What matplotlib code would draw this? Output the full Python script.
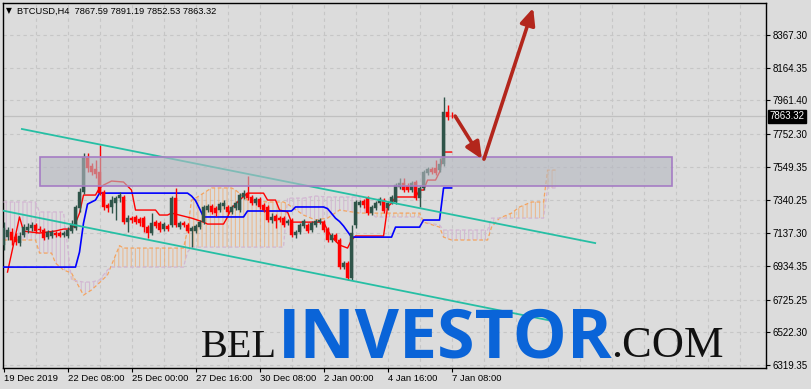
#%% IMPORTS
import numpy as np
import matplotlib
matplotlib.use('Agg')
import matplotlib.pyplot as plt
import matplotlib.transforms as mtransforms
from matplotlib.patches import Rectangle

#%% DATA (BTCUSD H4, bar index 0 = 19 Dec 2019 16:00)
opens = [7064, 7113, 7144, 7113, 7076, 7126, 7157, 7169, 7188, 7163,
         7157, 7113, 7120, 7138, 7138, 7126, 7120, 7151, 7169, 7293,
         7393, 7604, 7554, 7535, 7517, 7393, 7312, 7300, 7324, 7355,
         7362, 7206, 7231, 7238, 7225, 7231, 7175, 7138, 7206, 7200,
         7163, 7182, 7188, 7355, 7175, 7200, 7188, 7151, 7151, 7175,
         7206, 7281, 7306, 7293, 7281, 7306, 7300, 7269, 7293, 7281,
         7362, 7386, 7362, 7324, 7349, 7312, 7300, 7219, 7244, 7231,
         7231, 7200, 7219, 7126, 7144, 7182, 7188, 7157, 7188, 7206,
         7206, 7163, 7095, 7126, 7095, 6927, 6952, 6859, 7188, 7312,
         7337, 7355, 7262, 7293, 7324, 7343, 7293, 7331, 7331, 7424,
         7449, 7430, 7405, 7455, 7355, 7418, 7511, 7535, 7542, 7529,
         7566, 7889, 7867.59]
highs = [7206, 7175, 7169, 7138, 7144, 7194, 7200, 7206, 7200, 7182,
         7169, 7157, 7157, 7151, 7151, 7151, 7175, 7219, 7312, 7418,
         7635, 7635, 7573, 7591, 7684, 7405, 7324, 7368, 7368, 7393,
         7374, 7250, 7244, 7250, 7238, 7244, 7188, 7262, 7219, 7213,
         7206, 7194, 7368, 7418, 7213, 7213, 7200, 7182, 7194, 7219,
         7312, 7318, 7318, 7306, 7331, 7343, 7312, 7312, 7337, 7386,
         7405, 7492, 7374, 7362, 7362, 7324, 7312, 7262, 7256, 7244,
         7244, 7225, 7231, 7157, 7200, 7225, 7200, 7213, 7225, 7231,
         7219, 7175, 7138, 7138, 7107, 6964, 6964, 7188, 7343, 7343,
         7349, 7368, 7312, 7337, 7362, 7355, 7337, 7374, 7449, 7480,
         7480, 7449, 7461, 7467, 7430, 7529, 7548, 7548, 7591, 7604,
         7982, 7933, 7891.19]
lows = [7033, 7095, 7064, 7064, 7058, 7113, 7138, 7151, 7138, 7144,
        7095, 7101, 7107, 7113, 7113, 7113, 7107, 7138, 7157, 7269,
        7380, 7517, 7498, 7480, 7374, 7281, 7269, 7262, 7219, 7331,
        7194, 7144, 7200, 7194, 7182, 7144, 7107, 7126, 7169, 7144,
        7151, 7151, 7175, 7175, 7163, 7175, 7138, 7051, 7138, 7163,
        7194, 7269, 7256, 7244, 7269, 7287, 7256, 7256, 7281, 7269,
        7349, 7343, 7312, 7312, 7287, 7269, 7206, 7200, 7169, 7206,
        7175, 7188, 7113, 7107, 7132, 7169, 7138, 7144, 7175, 7194,
        7144, 7082, 7082, 7082, 6915, 6915, 6847, 6847, 7169, 7300,
        7293, 7250, 7250, 7281, 7312, 7262, 7281, 7318, 7318, 7411,
        7393, 7393, 7393, 7343, 7300, 7405, 7498, 7504, 7498, 7517,
        7554, 7840, 7852.53]
closes = [7169, 7157, 7095, 7082, 7120, 7175, 7175, 7188, 7151, 7157,
          7107, 7144, 7144, 7126, 7120, 7138, 7157, 7194, 7300, 7393,
          7610, 7542, 7517, 7504, 7386, 7300, 7293, 7343, 7355, 7374,
          7206, 7231, 7219, 7206, 7200, 7175, 7138, 7200, 7182, 7157,
          7194, 7163, 7355, 7188, 7200, 7188, 7151, 7169, 7182, 7206,
          7300, 7306, 7269, 7262, 7318, 7324, 7269, 7300, 7324, 7374,
          7386, 7355, 7324, 7349, 7300, 7281, 7219, 7238, 7213, 7219,
          7188, 7213, 7126, 7144, 7188, 7213, 7151, 7200, 7213, 7219,
          7157, 7095, 7126, 7095, 6927, 6952, 6859, 7138, 7331, 7331,
          7312, 7262, 7300, 7324, 7349, 7275, 7324, 7362, 7436, 7449,
          7405, 7405, 7449, 7355, 7418, 7517, 7535, 7517, 7511, 7566,
          7889, 7858, 7863.32]

# Ichimoku lines (bar, price)
tenkan_bar = [1, 4, 5, 9, 13, 15, 17, 18, 19, 20, 23, 24, 25, 27, 30, 32, 33, 38, 39, 41,
              42, 47, 50, 51, 55, 56, 57, 59, 61, 65, 66, 68, 69, 71, 72, 80, 81, 82, 84, 86,
              87, 88, 95, 96, 97, 98, 103, 104, 105, 106, 108, 109, 110, 112]
tenkan_val = [6896, 7238, 7150, 7138, 7151, 7163, 7163, 7200, 7262, 7374, 7374, 7418, 7436, 7461, 7455, 7405, 7281, 7281, 7250, 7250,
              7262, 7231, 7206, 7194, 7194, 7238, 7293, 7343, 7386, 7386, 7343, 7343, 7281, 7269, 7206, 7206, 7157, 7113, 7064, 7045,
              7095, 7120, 7120, 7300, 7324, 7362, 7362, 7405, 7405, 7467, 7467, 7517, 7641, 7641]
kijun_bar = [0, 18, 19, 20, 21, 23, 24, 46, 47, 48, 49, 50, 60, 61, 72, 73, 80, 81, 82, 83,
             84, 85, 87, 97, 98, 104, 105, 109, 110, 112]
kijun_val = [6927, 6927, 7020, 7200, 7318, 7343, 7386, 7386, 7368, 7340, 7290, 7238, 7238, 7275, 7275, 7300, 7300, 7290, 7260, 7230,
             7210, 7182, 7113, 7113, 7175, 7175, 7219, 7219, 7418, 7418]
cloud_bar = [0, 8, 9, 12, 13, 15, 17, 20, 22, 24, 26, 27, 28, 29, 30, 45, 46, 47, 48, 50,
             52, 57, 58, 61, 66, 70, 71, 75, 78, 81, 84, 89, 90, 93, 104, 105, 109, 110, 112, 121,
             122, 124, 127, 129, 132, 135, 136, 138]
span_a = [7095, 7095, 7014, 7014, 6952, 6909, 6890, 6753, 6785, 6830, 6878, 6940, 7000, 7060, 7045, 7045, 7157, 7343, 7355, 7386,
          7418, 7418, 7405, 7343, 7331, 7331, 7318, 7250, 7219, 7231, 7281, 7262, 7262, 7262, 7262, 7206, 7175, 7113, 7095, 7095,
          7175, 7231, 7262, 7300, 7331, 7331, 7529, 7529]
span_b = [7331, 7331, 7269, 7269, 7269, 7269, 6847, 6834, 6834, 6847, 6909, 6927, 6927, 6927, 6927, 6927, 7020, 7051, 7051, 7051,
          7051, 7051, 7051, 7051, 7051, 7051, 7355, 7355, 7368, 7362, 7362, 7362, 7312, 7238, 7238, 7206, 7188, 7157, 7157, 7157,
          7231, 7231, 7231, 7231, 7231, 7231, 7418, 7418]

# drawn objects (bar, price)
channel_upper = [(4.6, 7784), (147.9, 7076)]
channel_lower = [(-0.9, 7281), (136.1, 6598)]
zone_bars = (9.1, 167.1)
zone_prices = (7430, 7612)
arrow_down = [(112.9, 7864), (119.6, 7597)]
arrow_up = [(120.1, 7597), (132.4, 8535)]

price_ticks = [6319.35, 6522.30, 6725.25, 6934.35, 7137.30, 7340.25,
               7549.35, 7752.30, 7961.40, 8164.35, 8367.30]
time_ticks = [0, 16, 32, 48, 64, 80, 96, 112]
time_labels = ['19 Dec 2019', '22 Dec 08:00', '25 Dec 00:00', '27 Dec 16:00',
               '30 Dec 08:00', '2 Jan 00:00', '4 Jan 16:00', '7 Jan 08:00']
header = 'BTCUSD,H4  7867.59 7891.19 7852.53 7863.32'
bid = 7863.32

#%% STYLE
BG = '#dcdcdc'
GRID = '#c6c6c6'
BULL = '#2f5449'
BEAR = '#ff0000'
TEAL = '#26bfa4'
ARROW = '#b3261c'
plt.rcParams['font.family'] = ['Liberation Sans', 'DejaVu Sans']
plt.rcParams['hatch.linewidth'] = 0.8

#%% FIGURE
fig = plt.figure(figsize=(8.11, 3.89), dpi=100, facecolor=BG)
ax = fig.add_axes([3 / 811, 21 / 389, 763 / 811, 365 / 389], facecolor=BG)
ax.set_xlim(-0.125, 190.6)
ax.set_ylim(6300.7, 8565.9)

# grid
for b in range(8, 190, 8):
    ax.axvline(b, color=GRID, lw=0.8, ls=(0, (3, 3)), zorder=0)
for p in price_ticks:
    ax.axhline(p, color=GRID, lw=0.8, ls=(0, (3, 3)), zorder=0)

# watermark
wm_y = 1 - 357 / 389
fig.text(277 / 811, wm_y, 'BEL', family='Liberation Serif', fontsize=29,
         color='#111111', ha='right', va='baseline', zorder=1)
fig.text(278 / 811, wm_y, 'INVESTOR', family='Open Sans', fontweight='bold',
         fontsize=49, color='#0a64d8', ha='left', va='baseline', zorder=1)
fig.text(611 / 811, wm_y, '.COM', family='Liberation Serif', fontsize=32,
         color='#111111', ha='left', va='baseline', zorder=1)

# cloud
cb = np.array(cloud_bar, dtype=float)
sa = np.array(span_a, dtype=float)
sb = np.array(span_b, dtype=float)
ax.fill_between(cb, sa, sb, where=sa >= sb, interpolate=True, facecolor='none',
                edgecolor='#f4a460', hatch='||||', linewidth=0, alpha=0.6, zorder=2)
ax.fill_between(cb, sa, sb, where=sa < sb, interpolate=True, facecolor='none',
                edgecolor='#d2b6d2', hatch='||||', linewidth=0, alpha=0.9, zorder=2)
ax.plot(cb, sa, color='#f4a460', lw=0.9, ls=(0, (3, 2)), zorder=3)
ax.plot(cb, sb, color='#d2b6d2', lw=0.9, ls=(0, (3, 2)), zorder=3)

# tenkan / kijun
ax.plot(tenkan_bar, tenkan_val, color='#ff0000', lw=1.0, zorder=4)
ax.plot(kijun_bar, kijun_val, color='#0000ff', lw=1.2, zorder=4)

# candles
idx = np.arange(len(opens))
o = np.array(opens)
h = np.array(highs)
l = np.array(lows)
c = np.array(closes)
up = c >= o
cols = np.where(up, BULL, BEAR)
ax.vlines(idx, l, h, colors=cols, lw=1.0, zorder=5)
body = np.where(np.abs(c - o) < 4, 4, np.abs(c - o))
ax.bar(idx, body, bottom=np.minimum(o, c), width=0.72, color=cols,
       edgecolor=cols, linewidth=0.3, zorder=6)

# channel
for line in (channel_upper, channel_lower):
    xs, ys = zip(*line)
    ax.plot(xs, ys, color=TEAL, lw=1.3, zorder=7)

# zone rectangle
ax.add_patch(Rectangle((zone_bars[0], zone_prices[0]), zone_bars[1] - zone_bars[0],
                       zone_prices[1] - zone_prices[0], facecolor='#b6b9c2', alpha=0.62,
                       edgecolor='none', zorder=8))
ax.add_patch(Rectangle((zone_bars[0], zone_prices[0]), zone_bars[1] - zone_bars[0],
                       zone_prices[1] - zone_prices[0], facecolor='none',
                       edgecolor='#a57cc4', lw=1.2, zorder=8))

# bid line
ax.axhline(bid, color='#c0c0c0', lw=0.9, zorder=1)

# arrows
for start, tip in (arrow_down, arrow_up):
    ax.annotate('', xy=tip, xytext=start,
                arrowprops=dict(arrowstyle='-|>,head_length=1.0,head_width=0.45',
                                color=ARROW, lw=2.6, shrinkA=0, shrinkB=0),
                zorder=9)

# axes
for s in ax.spines.values():
    s.set_color('black')
    s.set_linewidth(1.0)
ax.yaxis.tick_right()
ax.set_yticks(price_ticks)
ax.set_yticklabels(['%.2f' % p for p in price_ticks], fontsize=7)
ax.set_xticks(time_ticks)
ax.set_xticklabels(time_labels, fontsize=6.8, ha='left')
ax.tick_params(axis='both', length=3, width=0.8, color='black', pad=2)
ax.tick_params(axis='x', pad=1)

trans = mtransforms.blended_transform_factory(ax.transAxes, ax.transData)
ax.text(1.004, bid, '%.2f' % bid, transform=trans, fontsize=7, color='white',
        va='center', ha='left', clip_on=False,
        bbox=dict(boxstyle='square,pad=0.15', facecolor='black', edgecolor='black'))

# header
fig.text(6 / 811, 1 - 11 / 389, '\u25bc', fontsize=5.5, family='DejaVu Sans',
         va='center', ha='left')
fig.text(17 / 811, 1 - 11 / 389, header, fontsize=6.7, va='center', ha='left')

fig.savefig('out.png', dpi=100, facecolor=BG)
